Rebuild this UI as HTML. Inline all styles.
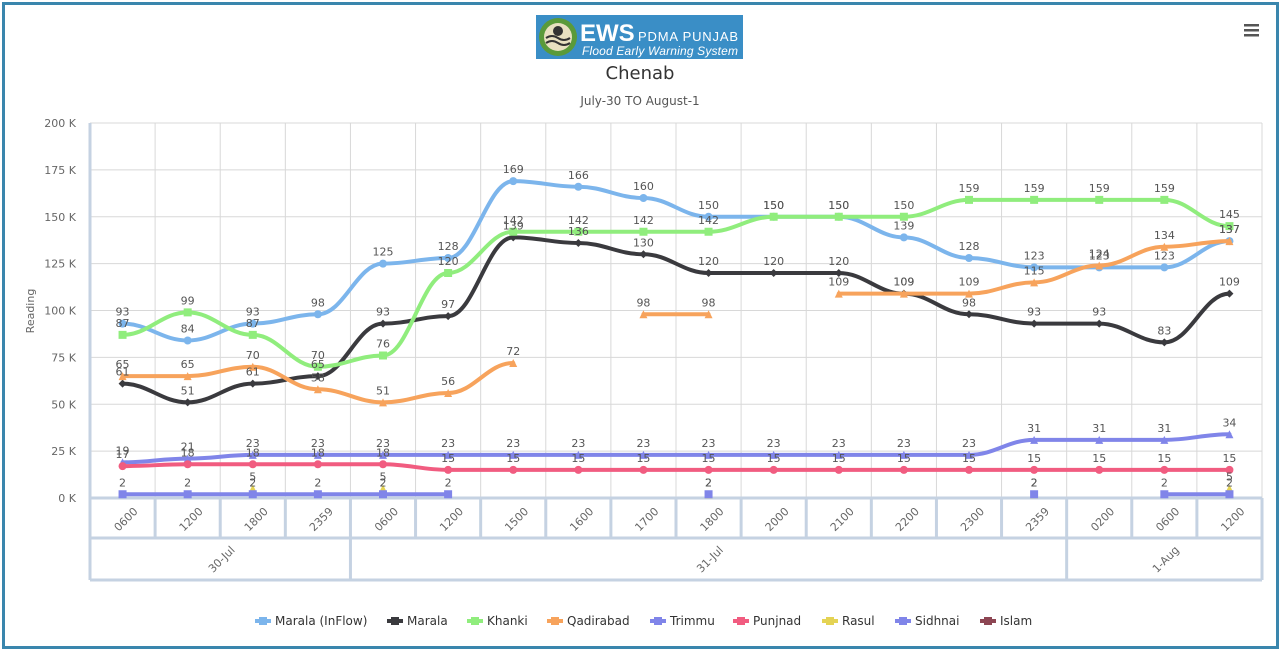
<!DOCTYPE html>
<html><head><meta charset="utf-8"><style>
html,body{margin:0;padding:0;background:#fff;width:1280px;height:651px;overflow:hidden;font-family:"DejaVu Sans","Liberation Sans",sans-serif}
#frame{position:absolute;left:2px;top:2px;width:1271px;height:641px;border:3px solid #3a86ad;border-top-width:3px}
svg{position:absolute;left:0;top:0}
</style></head><body>
<div id="frame"></div>
<svg id="s" width="1280" height="651" xmlns="http://www.w3.org/2000/svg" font-family="DejaVu Sans, Liberation Sans, sans-serif"></svg>
<script>
const S=document.getElementById('s');let h='';
h+='<rect x="536" y="15" width="207" height="44" fill="#3a8ec6"/>';
h+='<circle cx="558" cy="37" r="19" fill="#5a9a3a"/><circle cx="558" cy="37" r="14" fill="#e8e0c0"/><path d="M546 38 q6-4 12 0 t12 0 M546 43 q6-4 12 0 t12 0" stroke="#333" stroke-width="2" fill="none"/><circle cx="558" cy="31" r="5" fill="#333"/>';
h+='<text x="580" y="41" fill="#fff" font-family="Liberation Sans" font-weight="bold" font-size="24">EWS</text>';
h+='<text x="638" y="41" fill="#fff" font-family="Liberation Sans" font-size="13" textLength="100">PDMA PUNJAB</text>';
h+='<text x="582" y="55" fill="#fff" font-family="Liberation Sans" font-style="italic" font-size="12" textLength="156">Flood Early Warning System</text>';
h+='<text x="640" y="79" text-anchor="middle" font-size="18" fill="#333">Chenab</text>';
h+='<text x="640" y="105" text-anchor="middle" font-size="12" fill="#555">July-30 TO August-1</text>';
for(let i=0;i<3;i++)h+='<rect x="1244" y="'+(24+i*5)+'" width="15" height="2.5" fill="#555"/>';
const L=90,R=1262,T=123,B=498,n=18,cw=(R-L)/n;
const X=i=>L+cw*(i+0.5),Y=v=>B-v*(B-T)/200;
for(let k=0;k<=8;k++){const y=Y(k*25);h+='<line x1="'+L+'" x2="'+R+'" y1="'+y+'" y2="'+y+'" stroke="#d8d8d8"/>';h+='<text x="76" y="'+(y+4)+'" text-anchor="end" font-size="11" fill="#666">'+(k*25)+' K</text>';}
for(let i=0;i<=n;i++){const x=L+cw*i;h+='<line x1="'+x+'" x2="'+x+'" y1="'+T+'" y2="'+B+'" stroke="#d8d8d8"/>';}
h+='<line x1="'+L+'" x2="'+L+'" y1="'+T+'" y2="580" stroke="#c5d2e2" stroke-width="3"/>';
h+='<text transform="translate(34 311) rotate(-90)" text-anchor="middle" font-size="11" fill="#666">Reading</text>';
h+='<line x1="'+L+'" x2="'+R+'" y1="'+B+'" y2="'+B+'" stroke="#c5d2e2" stroke-width="3"/>';
h+='<line x1="'+L+'" x2="'+R+'" y1="538" y2="538" stroke="#c5d2e2" stroke-width="3"/>';
h+='<line x1="'+L+'" x2="'+R+'" y1="580" y2="580" stroke="#c5d2e2" stroke-width="3"/>';
const tl=['0600','1200','1800','2359','0600','1200','1500','1600','1700','1800','2000','2100','2200','2300','2359','0200','0600','1200'];
for(let i=0;i<=n;i++){const x=L+cw*i;h+='<line x1="'+x+'" x2="'+x+'" y1="'+B+'" y2="538" stroke="#c5d2e2" stroke-width="3"/>';}
[0,4,15,18].forEach(i=>{const x=L+cw*i;h+='<line x1="'+x+'" x2="'+x+'" y1="538" y2="580" stroke="#c5d2e2" stroke-width="3"/>';});
tl.forEach((t,i)=>{const x=X(i)+6,y=522;h+='<text transform="translate('+x+' '+y+') rotate(-45)" text-anchor="middle" font-size="11" fill="#666">'+t+'</text>';});
[['30-Jul',2],['31-Jul',9.5],['1-Aug',16.5]].forEach(d=>{const x=L+cw*d[1];h+='<text transform="translate('+(x+4)+' 562) rotate(-45)" text-anchor="middle" font-size="11" fill="#666">'+d[0]+'</text>';});
const N=null;
const ser=[
['#7cb5ec',[93,84,93,98,125,128,169,166,160,150,150,150,139,128,123,123,123,137],'c'],
['#3a3a3e',[61,51,61,65,93,97,139,136,130,120,120,120,109,98,93,93,83,109],'d'],
['#90ed7d',[87,99,87,70,76,120,142,142,142,142,150,150,150,159,159,159,159,145],'s'],
['#f7a35c',[65,65,70,58,51,56,72,N,98,98,N,109,109,109,115,124,134,137],'t'],
['#8085e9',[19,21,23,23,23,23,23,23,23,23,23,23,23,23,31,31,31,34],'t'],
['#f15c80',[17,18,18,18,18,15,15,15,15,15,15,15,15,15,15,15,15,15],'c'],
['#e4d354',[N,N,5,N,5,N,N,N,N,2,N,N,N,N,2,N,N,5],'t'],
['#8085e9',[2,2,2,2,2,2,N,N,N,2,N,N,N,N,2,N,2,2],'s'],
];
let lab='';
ser.forEach(([c,d,m])=>{
 let seg=[];const segs=[];
 d.forEach((v,i)=>{if(v==null){if(seg.length)segs.push(seg);seg=[];}else seg.push([X(i),Y(v)]);});
 if(seg.length)segs.push(seg);
 segs.forEach(sg=>{
  if(sg.length>1){let p='M'+sg[0][0]+' '+sg[0][1];
   for(let i=1;i<sg.length;i++){const a=sg[i-1],b=sg[i],mx=(b[0]-a[0])*0.4;p+=' C'+(a[0]+mx)+' '+a[1]+' '+(b[0]-mx)+' '+b[1]+' '+b[0]+' '+b[1];}
   h+='<path d="'+p+'" stroke="'+c+'" stroke-width="4" fill="none" stroke-linecap="round"/>';}
  sg.forEach(([x,y])=>{
   if(m=='s')h+='<rect x="'+(x-4)+'" y="'+(y-4)+'" width="8" height="8" fill="'+c+'"/>';
   else if(m=='d')h+='<path d="M'+x+' '+(y-4)+' L'+(x+4)+' '+y+' L'+x+' '+(y+4)+' L'+(x-4)+' '+y+'Z" fill="'+c+'"/>';
   else if(m=='t')h+='<path d="M'+x+' '+(y-4)+' L'+(x+4)+' '+(y+4)+' L'+(x-4)+' '+(y+4)+'Z" fill="'+c+'"/>';
   else h+='<circle cx="'+x+'" cy="'+y+'" r="4" fill="'+c+'"/>';
  });
 });
 d.forEach((v,i)=>{if(v!=null)lab+='<text x="'+X(i)+'" y="'+(Y(v)-8)+'" text-anchor="middle" font-size="11" fill="#555">'+v+'</text>';});
});
h+=lab;
const lg=[['Marala (InFlow)','#7cb5ec',255],['Marala','#3a3a3e',387],['Khanki','#90ed7d',467],['Qadirabad','#f7a35c',547],['Trimmu','#8085e9',650],['Punjnad','#f15c80',733],['Rasul','#e4d354',822],['Sidhnai','#8085e9',895],['Islam','#8d4653',980]];
lg.forEach(([t,c,x])=>{h+='<rect x="'+x+'" y="619" width="16" height="4" fill="'+c+'"/><rect x="'+(x+4)+'" y="617" width="8" height="8" fill="'+c+'"/><text x="'+(x+20)+'" y="625" font-size="12" fill="#333">'+t+'</text>';});
S.innerHTML=h;
</script>
</body></html>
